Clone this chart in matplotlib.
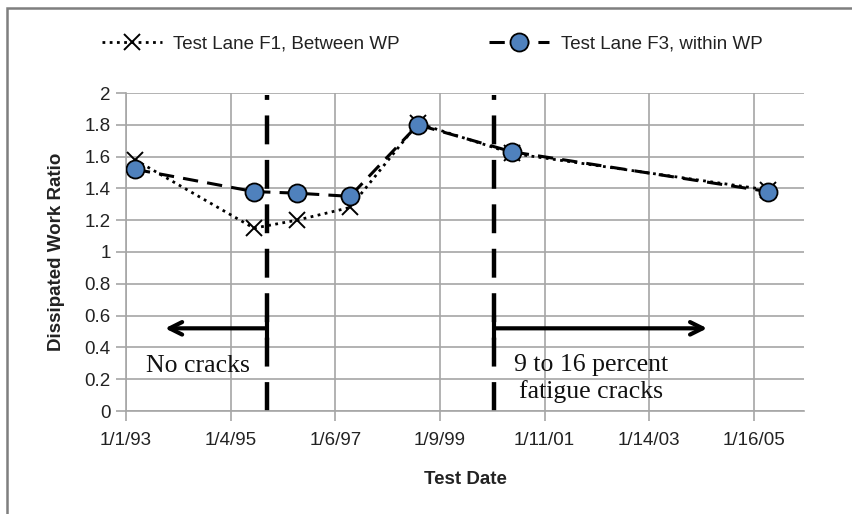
import matplotlib
matplotlib.use("Agg")
import matplotlib.pyplot as plt
from matplotlib.patches import Rectangle
import pandas as pd

# test dates and dissipated work ratio
test_dates = ["1993-03-05", "1995-06-16", "1996-04-12", "1997-04-19",
              "1998-08-08", "2000-05-29", "2005-04-25"]
lane_f1 = [1.58, 1.15, 1.20, 1.28, 1.81, 1.62, 1.39]
lane_f3 = [1.52, 1.38, 1.37, 1.35, 1.80, 1.63, 1.38]

# crack-state boundaries and arrow tips
boundary_dates = ["1995-09-15", "2000-01-24"]
arrow_tips = ["1993-10-01", "2004-02-24"]
arrow_level = 0.52

axis_start = "1993-01-01"
axis_end = "2006-01-02"
tick_step_days = 733
n_ticks = 7

SANS = ["Liberation Sans", "DejaVu Sans"]
SERIF = ["Liberation Serif", "DejaVu Serif"]
plt.rcParams["font.family"] = SANS

dates = pd.to_datetime(test_dates)
bounds = pd.to_datetime(boundary_dates)
tips = pd.to_datetime(arrow_tips)
ticks = [pd.Timestamp(axis_start) + pd.Timedelta(days=tick_step_days * i) for i in range(n_ticks)]
tick_labels = [f"{t.month}/{t.day}/{t:%y}" for t in ticks]

fig = plt.figure(figsize=(8.52, 5.14), dpi=100)
ax = fig.add_axes([126 / 852, 1 - 411 / 514, (804 - 126) / 852, (411 - 93) / 514])

grid_c = "#a6a6a6"
ax.set_xlim(pd.Timestamp(axis_start), pd.Timestamp(axis_end))
ax.set_ylim(0, 2)
ax.set_yticks([i / 5 for i in range(11)])
ax.set_yticklabels(["0", "0.2", "0.4", "0.6", "0.8", "1", "1.2", "1.4", "1.6", "1.8", "2"])
ax.set_xticks(ticks)
ax.set_xticklabels(tick_labels)
ax.grid(True, color=grid_c, lw=1.2)
ax.set_axisbelow(True)
for side in ("top", "right"):
    ax.spines[side].set_visible(False)
for side in ("left", "bottom"):
    ax.spines[side].set_color(grid_c)
    ax.spines[side].set_linewidth(1.2)
ax.tick_params(axis="both", length=7, width=1.2, color=grid_c, labelsize=13.5,
               labelcolor="#222222", pad=4)
ax.tick_params(axis="x", pad=8)

ax.plot(dates, lane_f1, color="black", lw=2, linestyle=(0, (1, 1.6)),
        marker="x", markersize=12, markeredgewidth=1.4, label="Test Lane F1, Between WP",
        zorder=3)
ax.plot(dates, lane_f3, color="black", lw=2.2, linestyle=(0, (5, 3)),
        marker="o", markersize=13, markerfacecolor="#4f81bd", markeredgecolor="black",
        markeredgewidth=1.3, label="Test Lane F3, within WP", zorder=4)

for b in bounds:
    ax.axvline(b, ymin=0, ymax=0.995, color="black", lw=3.2, linestyle=(0, (6.5, 3.5)),
               zorder=2)

for start, tip in zip(bounds, tips):
    ax.annotate("", xy=(tip, arrow_level), xytext=(start, arrow_level),
                arrowprops=dict(arrowstyle="->, head_length=0.9, head_width=0.45",
                                lw=3, color="black", shrinkA=0, shrinkB=0))
ax.plot(bounds, [arrow_level] * len(bounds), linestyle="none", marker="|",
        markersize=17, markeredgewidth=3, color="black")

ax.text(pd.Timestamp("1994-05-20"), 0.28, "No cracks", family=SERIF, fontsize=18.5,
        ha="center", va="center", color="#111111")
ax.text(pd.Timestamp("2001-12-03"), 0.205, "9 to 16 percent\nfatigue cracks", family=SERIF,
        fontsize=18.5, ha="center", va="center", color="#111111", linespacing=1.25)

ax.set_xlabel("Test Date", fontsize=13.5, fontweight="bold", labelpad=16, color="#222222")
ax.set_ylabel("Dissipated Work Ratio", fontsize=13.5, fontweight="bold", labelpad=14,
              color="#222222")

fig.legend(loc="center", bbox_to_anchor=(0.507, 1 - 44 / 514), ncol=2, frameon=False,
           fontsize=13.5, handlelength=3.2, columnspacing=4.8, handletextpad=0.6,
           labelcolor="#222222")

fig.patches.append(Rectangle((7 / 852, -0.1), 1.0, 1.1 - 8 / 514, transform=fig.transFigure,
                             fill=False, edgecolor="#7f7f7f", lw=1.8))

fig.savefig("out.png", dpi=100)
